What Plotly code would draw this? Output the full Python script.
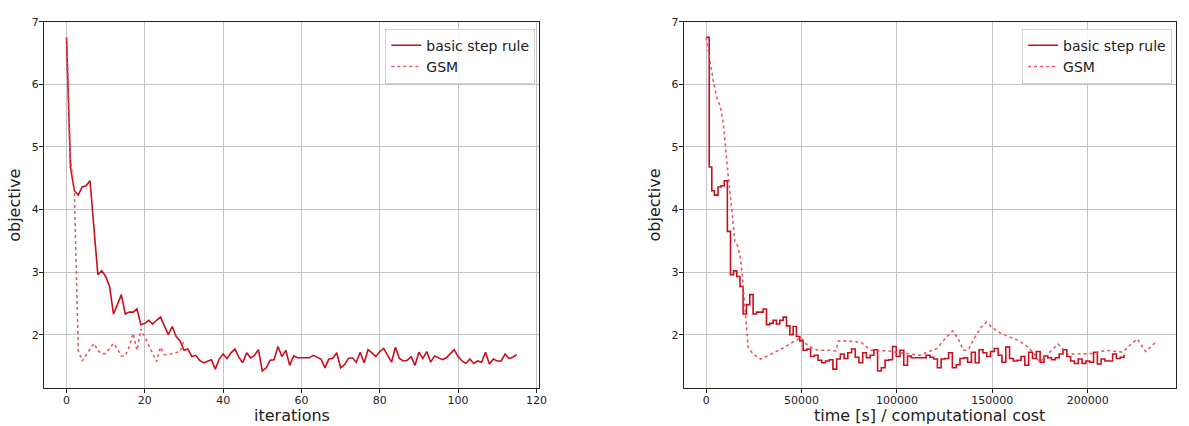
import plotly.graph_objects as go

# ---------------- data ----------------
iterations = list(range(116))
basic_obj = [6.75, 4.68, 4.30, 4.23, 4.36, 4.38, 4.46, 3.65, 2.96, 3.02,
             2.93, 2.77, 2.33, 2.48, 2.64, 2.33, 2.36, 2.36, 2.41, 2.16,
             2.18, 2.23, 2.17, 2.23, 2.28, 2.14, 2.00, 2.13, 1.97, 1.90,
             1.75, 1.77, 1.65, 1.67, 1.59, 1.55, 1.58, 1.60, 1.45, 1.61,
             1.69, 1.62, 1.71, 1.77, 1.64, 1.55, 1.71, 1.63, 1.67, 1.76,
             1.42, 1.47, 1.59, 1.60, 1.81, 1.65, 1.75, 1.51, 1.66, 1.63,
             1.63, 1.63, 1.63, 1.67, 1.64, 1.61, 1.47, 1.61, 1.62, 1.71,
             1.47, 1.52, 1.62, 1.63, 1.56, 1.72, 1.55, 1.76, 1.71, 1.65,
             1.73, 1.78, 1.67, 1.56, 1.80, 1.62, 1.58, 1.59, 1.65, 1.51,
             1.72, 1.62, 1.73, 1.56, 1.66, 1.63, 1.60, 1.63, 1.69, 1.76,
             1.65, 1.58, 1.54, 1.61, 1.54, 1.58, 1.56, 1.72, 1.53, 1.61,
             1.58, 1.58, 1.69, 1.62, 1.64, 1.68]

gsm_iterations = list(range(31))
gsm_obj = [6.75, 4.80, 4.30, 1.75, 1.58, 1.68, 1.77, 1.86, 1.75, 1.69,
           1.70, 1.78, 1.86, 1.77, 1.66, 1.66, 1.80, 2.02, 1.75, 2.09,
           1.96, 1.85, 1.72, 1.57, 1.80, 1.68, 1.68, 1.70, 1.71, 1.73,
           1.90]

basic_cost = [0, 1600, 2950, 4300, 6200, 7800, 9450, 11100, 12750, 14400,
              16050, 17700, 19350, 21100, 22850, 24600, 26350, 28100, 29850, 31600,
              33350, 35100, 36850, 38600, 40350, 42100, 43850, 45600, 47350, 49100,
              50850, 52800, 54750, 56700, 58650, 60600, 62550, 64500, 66450, 68400,
              70350, 72300, 74250, 76200, 78150, 80100, 82050, 84000, 85950, 87900,
              89850, 91810, 93770, 95730, 97690, 99650, 101610, 103570, 105530, 107490,
              109450, 111410, 113370, 115330, 117290, 119250, 121210, 123170, 125130, 127090,
              129050, 131050, 133050, 135050, 137050, 139050, 141050, 143050, 145050, 147050,
              149050, 151050, 153050, 155050, 157050, 159050, 161050, 163050, 165050, 167050,
              169050, 171050, 173050, 175050, 177050, 179050, 181050, 183050, 185050, 187050,
              189050, 191050, 193050, 195050, 197050, 199050, 201050, 203050, 205050, 207050,
              209050, 211050, 213050, 215050, 217050, 219050]

gsm_cost = [0, 3800, 5600, 7300, 9000, 10200, 11600, 13400, 15100, 16500,
            17700, 18900, 20300, 21200, 22000, 24600, 28600, 34200, 41100, 46300,
            49800, 53300, 58500, 63700, 68000, 69300, 74100, 81100, 86300, 94900,
            101900, 106000, 112300, 115800, 121000, 125400, 129300, 132300, 134900, 137500,
            140100, 144400, 147000, 150500, 154000, 158300, 163500, 167900, 171300, 174800,
            180000, 184400, 187000, 189600, 195700, 202600, 209500, 218200, 221700, 226000,
            230400, 235600]
gsm_cost_obj = [6.75, 6.04, 5.78, 5.66, 5.38, 4.94, 4.52, 4.00, 3.47, 3.42,
                3.27, 2.96, 2.43, 2.00, 1.80, 1.69, 1.61, 1.69, 1.80, 1.90,
                1.95, 1.82, 1.75, 1.75, 1.74, 1.90, 1.90, 1.88, 1.75, 1.74,
                1.71, 1.70, 1.67, 1.72, 1.78, 1.94, 2.06, 1.92, 1.75, 1.76,
                1.92, 2.13, 2.20, 2.10, 2.03, 1.97, 1.91, 1.82, 1.72, 1.56,
                1.72, 1.85, 1.77, 1.69, 1.69, 1.70, 1.75, 1.72, 1.82, 1.93,
                1.73, 1.88]

y_ticks = [2, 3, 4, 5, 6, 7]
x1_ticks = [0, 20, 40, 60, 80, 100, 120]
x2_ticks = [0, 50000, 100000, 150000, 200000]

# ---------------- styling ----------------
W, H = 1189, 426
SOLID = "#c80f1e"
DOT = "rgba(238,70,80,0.9)"
FONT = "DejaVu Sans"
TXT = "#222"

fig = go.Figure()

fig.add_trace(go.Scatter(x=iterations, y=basic_obj, mode="lines", name="basic step rule",
                         line=dict(color=SOLID, width=1.6), xaxis="x", yaxis="y",
                         legend="legend"))
fig.add_trace(go.Scatter(x=gsm_iterations, y=gsm_obj, mode="lines", name="GSM",
                         line=dict(color=DOT, width=1.6, dash="dot"), xaxis="x", yaxis="y",
                         legend="legend"))
fig.add_trace(go.Scatter(x=basic_cost, y=basic_obj, mode="lines", name="basic step rule",
                         line=dict(color=SOLID, width=1.6, shape="hv"), xaxis="x2", yaxis="y2",
                         legend="legend2"))
fig.add_trace(go.Scatter(x=gsm_cost, y=gsm_cost_obj, mode="lines", name="GSM",
                         line=dict(color=DOT, width=1.6, dash="dot"), xaxis="x2", yaxis="y2",
                         legend="legend2"))

def px_x(p):
    return p / W

def px_y(p):
    return 1 - p / H

top, bottom = 16, 387.5
l1, r1 = 44.3, 543
l2, r2 = 688.3, 1184

axis_common = dict(showgrid=True, gridcolor="#c4c4c4", gridwidth=1,
                   showline=True, linecolor=TXT, linewidth=1, mirror=True,
                   ticks="outside", ticklen=4, tickwidth=1, tickcolor=TXT,
                   tickfont=dict(family=FONT, size=11, color=TXT),
                   ticklabelstandoff=-2,
                   zeroline=False)

legend_common = dict(font=dict(family=FONT, size=14, color=TXT),
                     bgcolor="rgba(255,255,255,0.85)", bordercolor="#d0d0d0", borderwidth=1,
                     xanchor="right", yanchor="top", tracegroupgap=0)

title_font = dict(family=FONT, size=16, color=TXT)

fig.update_layout(
    width=W, height=H,
    margin=dict(l=0, r=0, t=0, b=0),
    paper_bgcolor="white", plot_bgcolor="white",
    font=dict(family=FONT, color=TXT),
    xaxis=dict(domain=[px_x(l1), px_x(r1)], range=[-5.75, 120.75], tickvals=x1_ticks,
               anchor="y", **axis_common),
    yaxis=dict(domain=[px_y(bottom), px_y(top)], range=[1.147, 7.0], tickvals=y_ticks,
               anchor="x", **axis_common),
    xaxis2=dict(domain=[px_x(l2), px_x(r2)], range=[-11800, 246300], tickvals=x2_ticks,
                tickformat="d", anchor="y2", **axis_common),
    yaxis2=dict(domain=[px_y(bottom), px_y(top)], range=[1.147, 7.0], tickvals=y_ticks,
                anchor="x2", **axis_common),
    legend=dict(x=px_x(539), y=px_y(23), **legend_common),
    legend2=dict(x=px_x(1180), y=px_y(23), **legend_common),
    annotations=[
        dict(text="iterations", x=px_x((l1 + r1) / 2), y=px_y(415.5), xref="paper", yref="paper",
             xanchor="center", yanchor="middle", showarrow=False, font=title_font),
        dict(text="time [s] / computational cost", x=px_x((l2 + r2) / 2), y=px_y(415.5),
             xref="paper", yref="paper", xanchor="center", yanchor="middle",
             showarrow=False, font=title_font),
        dict(text="objective", x=px_x(15), y=px_y((top + bottom) / 2), xref="paper", yref="paper",
             xanchor="center", yanchor="middle", showarrow=False, textangle=-90, font=title_font),
        dict(text="objective", x=px_x(659), y=px_y((top + bottom) / 2), xref="paper", yref="paper",
             xanchor="center", yanchor="middle", showarrow=False, textangle=-90, font=title_font),
    ],
)

fig.write_html("out.html", config={"displayModeBar": False},
               post_script="document.body.style.margin='0';document.body.style.overflow='hidden';")
